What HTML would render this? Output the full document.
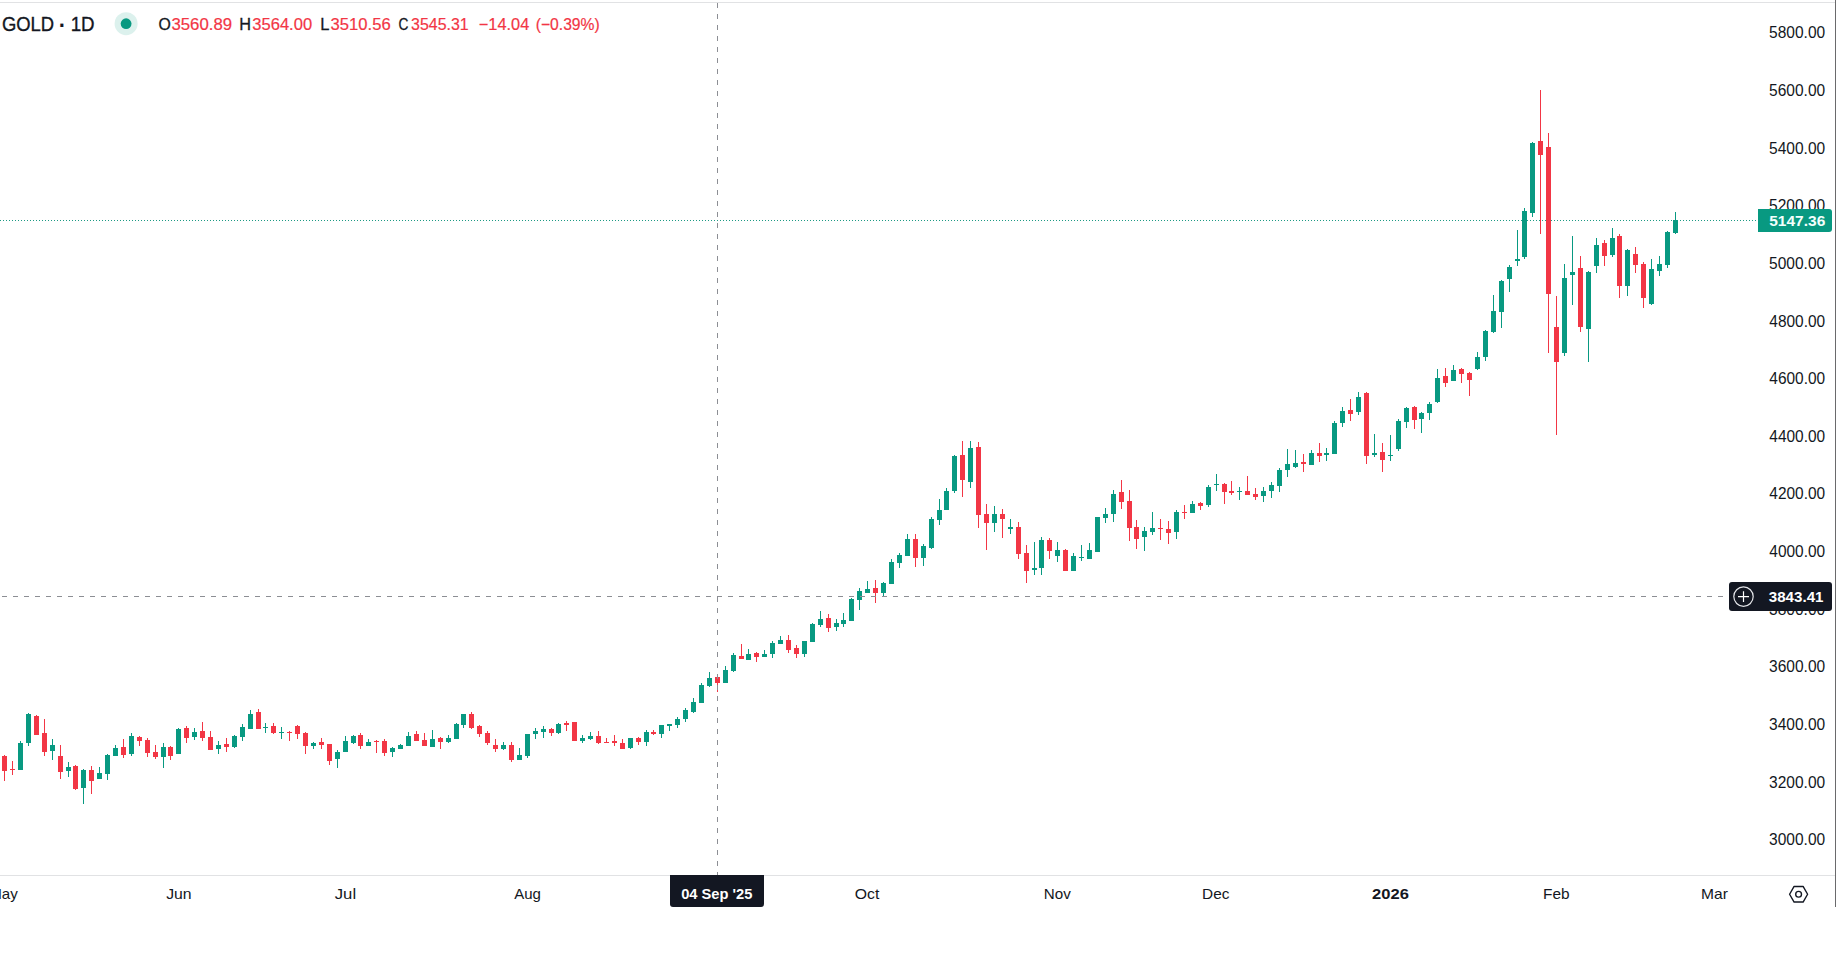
<!DOCTYPE html>
<html lang="en"><head><meta charset="utf-8"><title>GOLD 1D</title>
<style>
html,body{margin:0;padding:0;background:#fff;}
body{width:1836px;height:962px;overflow:hidden;font-family:"Liberation Sans", sans-serif;}
svg{display:block;}
text{font-family:"Liberation Sans", sans-serif;}
</style></head><body>
<svg width="1836" height="962" viewBox="0 0 1836 962">
<rect width="1836" height="962" fill="#fff"/>

<rect x="0" y="2" width="1835" height="1" fill="#e1e2e4"/>
<rect x="0" y="875" width="1835" height="1" fill="#e1e2e4"/>
<rect x="1835" y="0" width="1" height="907" fill="#6a6a6c"/>
<line x1="0" y1="220.5" x2="1758" y2="220.5" stroke="#1c9a84" stroke-width="1" stroke-dasharray="1 2" shape-rendering="crispEdges"/>
<g shape-rendering="crispEdges">
<rect x="4" y="755" width="1" height="26" fill="#f23645"/>
<rect x="2" y="756" width="5" height="15" fill="#f23645"/>
<rect x="12" y="761" width="1" height="14" fill="#f23645"/>
<rect x="10" y="769" width="5" height="1" fill="#f23645"/>
<rect x="20" y="741" width="1" height="29" fill="#089981"/>
<rect x="18" y="743" width="5" height="27" fill="#089981"/>
<rect x="28" y="713" width="1" height="33" fill="#089981"/>
<rect x="26" y="714" width="5" height="29" fill="#089981"/>
<rect x="36" y="715" width="1" height="20" fill="#f23645"/>
<rect x="34" y="716" width="5" height="19" fill="#f23645"/>
<rect x="44" y="719" width="1" height="37" fill="#f23645"/>
<rect x="42" y="733" width="5" height="19" fill="#f23645"/>
<rect x="52" y="739" width="1" height="21" fill="#089981"/>
<rect x="50" y="745" width="5" height="6" fill="#089981"/>
<rect x="60" y="745" width="1" height="34" fill="#f23645"/>
<rect x="58" y="756" width="5" height="16" fill="#f23645"/>
<rect x="68" y="762" width="1" height="15" fill="#089981"/>
<rect x="66" y="767" width="5" height="4" fill="#089981"/>
<rect x="75" y="765" width="1" height="25" fill="#f23645"/>
<rect x="73" y="766" width="5" height="23" fill="#f23645"/>
<rect x="83" y="769" width="1" height="35" fill="#089981"/>
<rect x="81" y="770" width="5" height="18" fill="#089981"/>
<rect x="91" y="766" width="1" height="28" fill="#f23645"/>
<rect x="89" y="770" width="5" height="11" fill="#f23645"/>
<rect x="99" y="767" width="1" height="12" fill="#089981"/>
<rect x="97" y="773" width="5" height="6" fill="#089981"/>
<rect x="107" y="754" width="1" height="26" fill="#089981"/>
<rect x="105" y="755" width="5" height="19" fill="#089981"/>
<rect x="115" y="745" width="1" height="11" fill="#089981"/>
<rect x="113" y="748" width="5" height="8" fill="#089981"/>
<rect x="123" y="739" width="1" height="19" fill="#f23645"/>
<rect x="121" y="747" width="5" height="8" fill="#f23645"/>
<rect x="131" y="733" width="1" height="23" fill="#089981"/>
<rect x="129" y="736" width="5" height="18" fill="#089981"/>
<rect x="139" y="736" width="1" height="10" fill="#f23645"/>
<rect x="137" y="737" width="5" height="4" fill="#f23645"/>
<rect x="147" y="738" width="1" height="19" fill="#f23645"/>
<rect x="145" y="740" width="5" height="13" fill="#f23645"/>
<rect x="155" y="745" width="1" height="14" fill="#f23645"/>
<rect x="153" y="752" width="5" height="5" fill="#f23645"/>
<rect x="163" y="743" width="1" height="25" fill="#089981"/>
<rect x="161" y="747" width="5" height="10" fill="#089981"/>
<rect x="170" y="746" width="1" height="14" fill="#f23645"/>
<rect x="168" y="747" width="5" height="9" fill="#f23645"/>
<rect x="178" y="728" width="1" height="26" fill="#089981"/>
<rect x="176" y="729" width="5" height="25" fill="#089981"/>
<rect x="186" y="726" width="1" height="17" fill="#f23645"/>
<rect x="184" y="728" width="5" height="10" fill="#f23645"/>
<rect x="194" y="728" width="1" height="12" fill="#089981"/>
<rect x="192" y="732" width="5" height="5" fill="#089981"/>
<rect x="202" y="722" width="1" height="19" fill="#f23645"/>
<rect x="200" y="731" width="5" height="7" fill="#f23645"/>
<rect x="210" y="731" width="1" height="19" fill="#f23645"/>
<rect x="208" y="737" width="5" height="13" fill="#f23645"/>
<rect x="218" y="741" width="1" height="13" fill="#089981"/>
<rect x="216" y="745" width="5" height="4" fill="#089981"/>
<rect x="226" y="738" width="1" height="14" fill="#f23645"/>
<rect x="224" y="744" width="5" height="3" fill="#f23645"/>
<rect x="234" y="735" width="1" height="13" fill="#089981"/>
<rect x="232" y="736" width="5" height="11" fill="#089981"/>
<rect x="242" y="724" width="1" height="17" fill="#089981"/>
<rect x="240" y="727" width="5" height="10" fill="#089981"/>
<rect x="250" y="710" width="1" height="19" fill="#089981"/>
<rect x="248" y="714" width="5" height="15" fill="#089981"/>
<rect x="258" y="709" width="1" height="20" fill="#f23645"/>
<rect x="256" y="712" width="5" height="17" fill="#f23645"/>
<rect x="265" y="723" width="1" height="10" fill="#089981"/>
<rect x="263" y="727" width="5" height="1" fill="#089981"/>
<rect x="273" y="723" width="1" height="11" fill="#f23645"/>
<rect x="271" y="726" width="5" height="7" fill="#f23645"/>
<rect x="281" y="727" width="1" height="12" fill="#089981"/>
<rect x="279" y="732" width="5" height="1" fill="#089981"/>
<rect x="289" y="731" width="1" height="10" fill="#f23645"/>
<rect x="287" y="732" width="5" height="1" fill="#f23645"/>
<rect x="297" y="725" width="1" height="14" fill="#f23645"/>
<rect x="295" y="726" width="5" height="8" fill="#f23645"/>
<rect x="305" y="732" width="1" height="22" fill="#f23645"/>
<rect x="303" y="733" width="5" height="13" fill="#f23645"/>
<rect x="313" y="742" width="1" height="7" fill="#089981"/>
<rect x="311" y="743" width="5" height="3" fill="#089981"/>
<rect x="321" y="738" width="1" height="11" fill="#f23645"/>
<rect x="319" y="742" width="5" height="3" fill="#f23645"/>
<rect x="329" y="744" width="1" height="21" fill="#f23645"/>
<rect x="327" y="744" width="5" height="17" fill="#f23645"/>
<rect x="337" y="750" width="1" height="18" fill="#089981"/>
<rect x="335" y="752" width="5" height="7" fill="#089981"/>
<rect x="345" y="736" width="1" height="16" fill="#089981"/>
<rect x="343" y="741" width="5" height="11" fill="#089981"/>
<rect x="353" y="735" width="1" height="9" fill="#089981"/>
<rect x="351" y="736" width="5" height="7" fill="#089981"/>
<rect x="360" y="733" width="1" height="16" fill="#f23645"/>
<rect x="358" y="735" width="5" height="11" fill="#f23645"/>
<rect x="368" y="739" width="1" height="7" fill="#089981"/>
<rect x="366" y="742" width="5" height="4" fill="#089981"/>
<rect x="376" y="740" width="1" height="13" fill="#f23645"/>
<rect x="374" y="741" width="5" height="1" fill="#f23645"/>
<rect x="384" y="739" width="1" height="17" fill="#f23645"/>
<rect x="382" y="741" width="5" height="12" fill="#f23645"/>
<rect x="392" y="747" width="1" height="10" fill="#089981"/>
<rect x="390" y="748" width="5" height="4" fill="#089981"/>
<rect x="400" y="744" width="1" height="5" fill="#089981"/>
<rect x="398" y="745" width="5" height="4" fill="#089981"/>
<rect x="408" y="732" width="1" height="14" fill="#089981"/>
<rect x="406" y="736" width="5" height="10" fill="#089981"/>
<rect x="416" y="731" width="1" height="10" fill="#f23645"/>
<rect x="414" y="734" width="5" height="7" fill="#f23645"/>
<rect x="424" y="733" width="1" height="13" fill="#f23645"/>
<rect x="422" y="740" width="5" height="6" fill="#f23645"/>
<rect x="432" y="730" width="1" height="17" fill="#089981"/>
<rect x="430" y="739" width="5" height="8" fill="#089981"/>
<rect x="440" y="737" width="1" height="12" fill="#f23645"/>
<rect x="438" y="738" width="5" height="4" fill="#f23645"/>
<rect x="448" y="735" width="1" height="8" fill="#089981"/>
<rect x="446" y="738" width="5" height="4" fill="#089981"/>
<rect x="456" y="723" width="1" height="16" fill="#089981"/>
<rect x="454" y="724" width="5" height="15" fill="#089981"/>
<rect x="463" y="714" width="1" height="14" fill="#089981"/>
<rect x="461" y="714" width="5" height="11" fill="#089981"/>
<rect x="471" y="712" width="1" height="17" fill="#f23645"/>
<rect x="469" y="714" width="5" height="14" fill="#f23645"/>
<rect x="479" y="725" width="1" height="12" fill="#f23645"/>
<rect x="477" y="726" width="5" height="8" fill="#f23645"/>
<rect x="487" y="731" width="1" height="14" fill="#f23645"/>
<rect x="485" y="733" width="5" height="10" fill="#f23645"/>
<rect x="495" y="739" width="1" height="13" fill="#f23645"/>
<rect x="493" y="745" width="5" height="4" fill="#f23645"/>
<rect x="503" y="742" width="1" height="8" fill="#089981"/>
<rect x="501" y="745" width="5" height="4" fill="#089981"/>
<rect x="511" y="742" width="1" height="20" fill="#f23645"/>
<rect x="509" y="745" width="5" height="15" fill="#f23645"/>
<rect x="519" y="748" width="1" height="12" fill="#089981"/>
<rect x="517" y="755" width="5" height="5" fill="#089981"/>
<rect x="527" y="734" width="1" height="24" fill="#089981"/>
<rect x="525" y="734" width="5" height="22" fill="#089981"/>
<rect x="535" y="728" width="1" height="11" fill="#089981"/>
<rect x="533" y="731" width="5" height="3" fill="#089981"/>
<rect x="543" y="726" width="1" height="12" fill="#089981"/>
<rect x="541" y="729" width="5" height="3" fill="#089981"/>
<rect x="551" y="728" width="1" height="8" fill="#f23645"/>
<rect x="549" y="729" width="5" height="4" fill="#f23645"/>
<rect x="558" y="723" width="1" height="11" fill="#089981"/>
<rect x="556" y="724" width="5" height="9" fill="#089981"/>
<rect x="566" y="721" width="1" height="10" fill="#f23645"/>
<rect x="564" y="723" width="5" height="2" fill="#f23645"/>
<rect x="574" y="722" width="1" height="19" fill="#f23645"/>
<rect x="572" y="722" width="5" height="19" fill="#f23645"/>
<rect x="582" y="735" width="1" height="8" fill="#089981"/>
<rect x="580" y="738" width="5" height="3" fill="#089981"/>
<rect x="590" y="732" width="1" height="8" fill="#089981"/>
<rect x="588" y="736" width="5" height="3" fill="#089981"/>
<rect x="598" y="731" width="1" height="13" fill="#f23645"/>
<rect x="596" y="736" width="5" height="7" fill="#f23645"/>
<rect x="606" y="738" width="1" height="5" fill="#f23645"/>
<rect x="604" y="742" width="5" height="1" fill="#f23645"/>
<rect x="614" y="735" width="1" height="11" fill="#f23645"/>
<rect x="612" y="741" width="5" height="2" fill="#f23645"/>
<rect x="622" y="739" width="1" height="10" fill="#f23645"/>
<rect x="620" y="743" width="5" height="6" fill="#f23645"/>
<rect x="630" y="738" width="1" height="11" fill="#089981"/>
<rect x="628" y="738" width="5" height="10" fill="#089981"/>
<rect x="638" y="737" width="1" height="8" fill="#f23645"/>
<rect x="636" y="738" width="5" height="4" fill="#f23645"/>
<rect x="646" y="730" width="1" height="16" fill="#089981"/>
<rect x="644" y="732" width="5" height="10" fill="#089981"/>
<rect x="653" y="730" width="1" height="5" fill="#f23645"/>
<rect x="651" y="732" width="5" height="2" fill="#f23645"/>
<rect x="661" y="725" width="1" height="13" fill="#089981"/>
<rect x="659" y="725" width="5" height="9" fill="#089981"/>
<rect x="669" y="724" width="1" height="7" fill="#089981"/>
<rect x="667" y="724" width="5" height="2" fill="#089981"/>
<rect x="677" y="717" width="1" height="11" fill="#089981"/>
<rect x="675" y="719" width="5" height="6" fill="#089981"/>
<rect x="685" y="708" width="1" height="14" fill="#089981"/>
<rect x="683" y="710" width="5" height="9" fill="#089981"/>
<rect x="693" y="698" width="1" height="15" fill="#089981"/>
<rect x="691" y="702" width="5" height="10" fill="#089981"/>
<rect x="701" y="683" width="1" height="20" fill="#089981"/>
<rect x="699" y="685" width="5" height="18" fill="#089981"/>
<rect x="709" y="672" width="1" height="15" fill="#089981"/>
<rect x="707" y="678" width="5" height="8" fill="#089981"/>
<rect x="717" y="675" width="1" height="17" fill="#f23645"/>
<rect x="715" y="677" width="5" height="6" fill="#f23645"/>
<rect x="725" y="666" width="1" height="17" fill="#089981"/>
<rect x="723" y="670" width="5" height="13" fill="#089981"/>
<rect x="733" y="653" width="1" height="19" fill="#089981"/>
<rect x="731" y="655" width="5" height="16" fill="#089981"/>
<rect x="741" y="644" width="1" height="15" fill="#f23645"/>
<rect x="739" y="656" width="5" height="3" fill="#f23645"/>
<rect x="748" y="649" width="1" height="11" fill="#089981"/>
<rect x="746" y="654" width="5" height="6" fill="#089981"/>
<rect x="756" y="652" width="1" height="10" fill="#f23645"/>
<rect x="754" y="653" width="5" height="4" fill="#f23645"/>
<rect x="764" y="650" width="1" height="7" fill="#089981"/>
<rect x="762" y="654" width="5" height="3" fill="#089981"/>
<rect x="772" y="641" width="1" height="17" fill="#089981"/>
<rect x="770" y="643" width="5" height="11" fill="#089981"/>
<rect x="780" y="636" width="1" height="8" fill="#089981"/>
<rect x="778" y="640" width="5" height="4" fill="#089981"/>
<rect x="788" y="635" width="1" height="18" fill="#f23645"/>
<rect x="786" y="640" width="5" height="10" fill="#f23645"/>
<rect x="796" y="645" width="1" height="13" fill="#f23645"/>
<rect x="794" y="648" width="5" height="6" fill="#f23645"/>
<rect x="804" y="641" width="1" height="16" fill="#089981"/>
<rect x="802" y="641" width="5" height="13" fill="#089981"/>
<rect x="812" y="623" width="1" height="19" fill="#089981"/>
<rect x="810" y="624" width="5" height="18" fill="#089981"/>
<rect x="820" y="611" width="1" height="16" fill="#089981"/>
<rect x="818" y="619" width="5" height="6" fill="#089981"/>
<rect x="828" y="614" width="1" height="18" fill="#f23645"/>
<rect x="826" y="618" width="5" height="10" fill="#f23645"/>
<rect x="836" y="619" width="1" height="12" fill="#089981"/>
<rect x="834" y="623" width="5" height="4" fill="#089981"/>
<rect x="843" y="613" width="1" height="14" fill="#089981"/>
<rect x="841" y="620" width="5" height="4" fill="#089981"/>
<rect x="851" y="598" width="1" height="23" fill="#089981"/>
<rect x="849" y="599" width="5" height="22" fill="#089981"/>
<rect x="859" y="588" width="1" height="22" fill="#089981"/>
<rect x="857" y="591" width="5" height="9" fill="#089981"/>
<rect x="867" y="581" width="1" height="12" fill="#089981"/>
<rect x="865" y="589" width="5" height="4" fill="#089981"/>
<rect x="875" y="580" width="1" height="23" fill="#f23645"/>
<rect x="873" y="588" width="5" height="5" fill="#f23645"/>
<rect x="883" y="582" width="1" height="14" fill="#089981"/>
<rect x="881" y="583" width="5" height="10" fill="#089981"/>
<rect x="891" y="559" width="1" height="25" fill="#089981"/>
<rect x="889" y="562" width="5" height="22" fill="#089981"/>
<rect x="899" y="553" width="1" height="15" fill="#089981"/>
<rect x="897" y="555" width="5" height="8" fill="#089981"/>
<rect x="907" y="534" width="1" height="22" fill="#089981"/>
<rect x="905" y="539" width="5" height="17" fill="#089981"/>
<rect x="915" y="534" width="1" height="33" fill="#f23645"/>
<rect x="913" y="539" width="5" height="19" fill="#f23645"/>
<rect x="923" y="544" width="1" height="22" fill="#089981"/>
<rect x="921" y="546" width="5" height="12" fill="#089981"/>
<rect x="931" y="517" width="1" height="32" fill="#089981"/>
<rect x="929" y="519" width="5" height="29" fill="#089981"/>
<rect x="939" y="499" width="1" height="26" fill="#089981"/>
<rect x="937" y="510" width="5" height="10" fill="#089981"/>
<rect x="946" y="488" width="1" height="22" fill="#089981"/>
<rect x="944" y="491" width="5" height="19" fill="#089981"/>
<rect x="954" y="455" width="1" height="38" fill="#089981"/>
<rect x="952" y="456" width="5" height="35" fill="#089981"/>
<rect x="962" y="441" width="1" height="56" fill="#f23645"/>
<rect x="960" y="455" width="5" height="25" fill="#f23645"/>
<rect x="970" y="441" width="1" height="47" fill="#089981"/>
<rect x="968" y="448" width="5" height="34" fill="#089981"/>
<rect x="978" y="442" width="1" height="86" fill="#f23645"/>
<rect x="976" y="447" width="5" height="68" fill="#f23645"/>
<rect x="986" y="504" width="1" height="46" fill="#f23645"/>
<rect x="984" y="514" width="5" height="9" fill="#f23645"/>
<rect x="994" y="506" width="1" height="26" fill="#089981"/>
<rect x="992" y="514" width="5" height="9" fill="#089981"/>
<rect x="1002" y="509" width="1" height="29" fill="#f23645"/>
<rect x="1000" y="514" width="5" height="5" fill="#f23645"/>
<rect x="1010" y="519" width="1" height="15" fill="#089981"/>
<rect x="1008" y="527" width="5" height="2" fill="#089981"/>
<rect x="1018" y="522" width="1" height="37" fill="#f23645"/>
<rect x="1016" y="527" width="5" height="27" fill="#f23645"/>
<rect x="1026" y="545" width="1" height="38" fill="#f23645"/>
<rect x="1024" y="553" width="5" height="18" fill="#f23645"/>
<rect x="1034" y="542" width="1" height="33" fill="#089981"/>
<rect x="1032" y="568" width="5" height="2" fill="#089981"/>
<rect x="1041" y="537" width="1" height="38" fill="#089981"/>
<rect x="1039" y="540" width="5" height="28" fill="#089981"/>
<rect x="1049" y="538" width="1" height="21" fill="#f23645"/>
<rect x="1047" y="540" width="5" height="11" fill="#f23645"/>
<rect x="1057" y="542" width="1" height="20" fill="#089981"/>
<rect x="1055" y="550" width="5" height="6" fill="#089981"/>
<rect x="1065" y="549" width="1" height="22" fill="#f23645"/>
<rect x="1063" y="550" width="5" height="21" fill="#f23645"/>
<rect x="1073" y="553" width="1" height="18" fill="#089981"/>
<rect x="1071" y="556" width="5" height="15" fill="#089981"/>
<rect x="1081" y="545" width="1" height="16" fill="#089981"/>
<rect x="1079" y="557" width="5" height="1" fill="#089981"/>
<rect x="1089" y="543" width="1" height="16" fill="#089981"/>
<rect x="1087" y="550" width="5" height="9" fill="#089981"/>
<rect x="1097" y="517" width="1" height="35" fill="#089981"/>
<rect x="1095" y="517" width="5" height="35" fill="#089981"/>
<rect x="1105" y="508" width="1" height="15" fill="#089981"/>
<rect x="1103" y="514" width="5" height="4" fill="#089981"/>
<rect x="1113" y="490" width="1" height="32" fill="#089981"/>
<rect x="1111" y="494" width="5" height="20" fill="#089981"/>
<rect x="1121" y="480" width="1" height="29" fill="#f23645"/>
<rect x="1119" y="492" width="5" height="10" fill="#f23645"/>
<rect x="1129" y="490" width="1" height="51" fill="#f23645"/>
<rect x="1127" y="501" width="5" height="27" fill="#f23645"/>
<rect x="1136" y="520" width="1" height="29" fill="#f23645"/>
<rect x="1134" y="527" width="5" height="12" fill="#f23645"/>
<rect x="1144" y="527" width="1" height="24" fill="#089981"/>
<rect x="1142" y="531" width="5" height="6" fill="#089981"/>
<rect x="1152" y="512" width="1" height="23" fill="#089981"/>
<rect x="1150" y="528" width="5" height="4" fill="#089981"/>
<rect x="1160" y="519" width="1" height="21" fill="#f23645"/>
<rect x="1158" y="528" width="5" height="1" fill="#f23645"/>
<rect x="1168" y="521" width="1" height="23" fill="#f23645"/>
<rect x="1166" y="529" width="5" height="4" fill="#f23645"/>
<rect x="1176" y="510" width="1" height="29" fill="#089981"/>
<rect x="1174" y="512" width="5" height="20" fill="#089981"/>
<rect x="1184" y="505" width="1" height="14" fill="#f23645"/>
<rect x="1182" y="512" width="5" height="1" fill="#f23645"/>
<rect x="1192" y="501" width="1" height="12" fill="#089981"/>
<rect x="1190" y="504" width="5" height="9" fill="#089981"/>
<rect x="1200" y="502" width="1" height="8" fill="#f23645"/>
<rect x="1198" y="503" width="5" height="3" fill="#f23645"/>
<rect x="1208" y="485" width="1" height="22" fill="#089981"/>
<rect x="1206" y="487" width="5" height="18" fill="#089981"/>
<rect x="1216" y="474" width="1" height="17" fill="#089981"/>
<rect x="1214" y="484" width="5" height="1" fill="#089981"/>
<rect x="1224" y="483" width="1" height="21" fill="#f23645"/>
<rect x="1222" y="484" width="5" height="8" fill="#f23645"/>
<rect x="1231" y="481" width="1" height="14" fill="#f23645"/>
<rect x="1229" y="491" width="5" height="2" fill="#f23645"/>
<rect x="1239" y="487" width="1" height="13" fill="#089981"/>
<rect x="1237" y="491" width="5" height="1" fill="#089981"/>
<rect x="1247" y="476" width="1" height="19" fill="#f23645"/>
<rect x="1245" y="491" width="5" height="4" fill="#f23645"/>
<rect x="1255" y="488" width="1" height="12" fill="#f23645"/>
<rect x="1253" y="494" width="5" height="3" fill="#f23645"/>
<rect x="1263" y="487" width="1" height="15" fill="#089981"/>
<rect x="1261" y="491" width="5" height="5" fill="#089981"/>
<rect x="1271" y="482" width="1" height="16" fill="#089981"/>
<rect x="1269" y="485" width="5" height="6" fill="#089981"/>
<rect x="1279" y="468" width="1" height="24" fill="#089981"/>
<rect x="1277" y="470" width="5" height="16" fill="#089981"/>
<rect x="1287" y="449" width="1" height="28" fill="#089981"/>
<rect x="1285" y="464" width="5" height="6" fill="#089981"/>
<rect x="1295" y="450" width="1" height="18" fill="#089981"/>
<rect x="1293" y="463" width="5" height="4" fill="#089981"/>
<rect x="1303" y="454" width="1" height="18" fill="#f23645"/>
<rect x="1301" y="462" width="5" height="2" fill="#f23645"/>
<rect x="1311" y="450" width="1" height="15" fill="#089981"/>
<rect x="1309" y="453" width="5" height="12" fill="#089981"/>
<rect x="1319" y="443" width="1" height="19" fill="#f23645"/>
<rect x="1317" y="453" width="5" height="3" fill="#f23645"/>
<rect x="1326" y="448" width="1" height="13" fill="#089981"/>
<rect x="1324" y="453" width="5" height="2" fill="#089981"/>
<rect x="1334" y="421" width="1" height="33" fill="#089981"/>
<rect x="1332" y="423" width="5" height="31" fill="#089981"/>
<rect x="1342" y="407" width="1" height="20" fill="#089981"/>
<rect x="1340" y="411" width="5" height="12" fill="#089981"/>
<rect x="1350" y="399" width="1" height="22" fill="#f23645"/>
<rect x="1348" y="410" width="5" height="4" fill="#f23645"/>
<rect x="1358" y="392" width="1" height="23" fill="#089981"/>
<rect x="1356" y="397" width="5" height="15" fill="#089981"/>
<rect x="1366" y="392" width="1" height="72" fill="#f23645"/>
<rect x="1364" y="393" width="5" height="63" fill="#f23645"/>
<rect x="1374" y="434" width="1" height="23" fill="#089981"/>
<rect x="1372" y="453" width="5" height="2" fill="#089981"/>
<rect x="1382" y="443" width="1" height="29" fill="#f23645"/>
<rect x="1380" y="452" width="5" height="8" fill="#f23645"/>
<rect x="1390" y="435" width="1" height="26" fill="#089981"/>
<rect x="1388" y="455" width="5" height="1" fill="#089981"/>
<rect x="1398" y="419" width="1" height="32" fill="#089981"/>
<rect x="1396" y="421" width="5" height="28" fill="#089981"/>
<rect x="1406" y="407" width="1" height="21" fill="#089981"/>
<rect x="1404" y="408" width="5" height="14" fill="#089981"/>
<rect x="1414" y="406" width="1" height="23" fill="#f23645"/>
<rect x="1412" y="407" width="5" height="13" fill="#f23645"/>
<rect x="1421" y="412" width="1" height="21" fill="#089981"/>
<rect x="1419" y="413" width="5" height="6" fill="#089981"/>
<rect x="1429" y="402" width="1" height="18" fill="#089981"/>
<rect x="1427" y="404" width="5" height="9" fill="#089981"/>
<rect x="1437" y="369" width="1" height="34" fill="#089981"/>
<rect x="1435" y="378" width="5" height="24" fill="#089981"/>
<rect x="1445" y="368" width="1" height="19" fill="#f23645"/>
<rect x="1443" y="376" width="5" height="7" fill="#f23645"/>
<rect x="1453" y="365" width="1" height="16" fill="#089981"/>
<rect x="1451" y="370" width="5" height="11" fill="#089981"/>
<rect x="1461" y="368" width="1" height="15" fill="#f23645"/>
<rect x="1459" y="369" width="5" height="5" fill="#f23645"/>
<rect x="1469" y="372" width="1" height="24" fill="#f23645"/>
<rect x="1467" y="373" width="5" height="7" fill="#f23645"/>
<rect x="1477" y="352" width="1" height="18" fill="#089981"/>
<rect x="1475" y="357" width="5" height="12" fill="#089981"/>
<rect x="1485" y="330" width="1" height="31" fill="#089981"/>
<rect x="1483" y="331" width="5" height="26" fill="#089981"/>
<rect x="1493" y="295" width="1" height="38" fill="#089981"/>
<rect x="1491" y="311" width="5" height="21" fill="#089981"/>
<rect x="1501" y="280" width="1" height="48" fill="#089981"/>
<rect x="1499" y="281" width="5" height="31" fill="#089981"/>
<rect x="1509" y="265" width="1" height="27" fill="#089981"/>
<rect x="1507" y="267" width="5" height="12" fill="#089981"/>
<rect x="1517" y="230" width="1" height="36" fill="#089981"/>
<rect x="1515" y="259" width="5" height="2" fill="#089981"/>
<rect x="1524" y="208" width="1" height="51" fill="#089981"/>
<rect x="1522" y="211" width="5" height="46" fill="#089981"/>
<rect x="1532" y="142" width="1" height="75" fill="#089981"/>
<rect x="1530" y="143" width="5" height="70" fill="#089981"/>
<rect x="1540" y="90" width="1" height="144" fill="#f23645"/>
<rect x="1538" y="141" width="5" height="14" fill="#f23645"/>
<rect x="1548" y="133" width="1" height="220" fill="#f23645"/>
<rect x="1546" y="147" width="5" height="147" fill="#f23645"/>
<rect x="1556" y="296" width="1" height="139" fill="#f23645"/>
<rect x="1554" y="327" width="5" height="35" fill="#f23645"/>
<rect x="1564" y="264" width="1" height="92" fill="#089981"/>
<rect x="1562" y="278" width="5" height="75" fill="#089981"/>
<rect x="1572" y="236" width="1" height="69" fill="#089981"/>
<rect x="1570" y="272" width="5" height="3" fill="#089981"/>
<rect x="1580" y="256" width="1" height="76" fill="#f23645"/>
<rect x="1578" y="268" width="5" height="59" fill="#f23645"/>
<rect x="1588" y="271" width="1" height="91" fill="#089981"/>
<rect x="1586" y="272" width="5" height="57" fill="#089981"/>
<rect x="1596" y="238" width="1" height="35" fill="#089981"/>
<rect x="1594" y="245" width="5" height="21" fill="#089981"/>
<rect x="1604" y="240" width="1" height="26" fill="#f23645"/>
<rect x="1602" y="243" width="5" height="13" fill="#f23645"/>
<rect x="1612" y="228" width="1" height="29" fill="#089981"/>
<rect x="1610" y="238" width="5" height="17" fill="#089981"/>
<rect x="1619" y="234" width="1" height="64" fill="#f23645"/>
<rect x="1617" y="236" width="5" height="50" fill="#f23645"/>
<rect x="1627" y="249" width="1" height="47" fill="#089981"/>
<rect x="1625" y="250" width="5" height="36" fill="#089981"/>
<rect x="1635" y="247" width="1" height="26" fill="#f23645"/>
<rect x="1633" y="254" width="5" height="11" fill="#f23645"/>
<rect x="1643" y="262" width="1" height="46" fill="#f23645"/>
<rect x="1641" y="264" width="5" height="34" fill="#f23645"/>
<rect x="1651" y="259" width="1" height="46" fill="#089981"/>
<rect x="1649" y="269" width="5" height="35" fill="#089981"/>
<rect x="1659" y="256" width="1" height="20" fill="#089981"/>
<rect x="1657" y="264" width="5" height="7" fill="#089981"/>
<rect x="1667" y="231" width="1" height="37" fill="#089981"/>
<rect x="1665" y="232" width="5" height="33" fill="#089981"/>
<rect x="1675" y="212" width="1" height="22" fill="#089981"/>
<rect x="1673" y="220" width="5" height="13" fill="#089981"/>
</g>
<line x1="717.5" y1="3" x2="717.5" y2="875" stroke="#8c8e94" stroke-width="1" stroke-dasharray="5 6" shape-rendering="crispEdges"/>
<line x1="2" y1="596.5" x2="1729" y2="596.5" stroke="#8c8e94" stroke-width="1" stroke-dasharray="5 6" shape-rendering="crispEdges"/>
<text x="1769.08" y="38.31" font-size="16" fill="#131722" textLength="56.11" lengthAdjust="spacingAndGlyphs">5800.00</text>
<text x="1769.08" y="95.95" font-size="16" fill="#131722" textLength="56.11" lengthAdjust="spacingAndGlyphs">5600.00</text>
<text x="1769.08" y="153.60" font-size="16" fill="#131722" textLength="56.11" lengthAdjust="spacingAndGlyphs">5400.00</text>
<text x="1769.08" y="211.24" font-size="16" fill="#131722" textLength="56.11" lengthAdjust="spacingAndGlyphs">5200.00</text>
<text x="1769.08" y="268.88" font-size="16" fill="#131722" textLength="56.11" lengthAdjust="spacingAndGlyphs">5000.00</text>
<text x="1769.36" y="326.52" font-size="16" fill="#131722" textLength="55.82" lengthAdjust="spacingAndGlyphs">4800.00</text>
<text x="1769.36" y="384.16" font-size="16" fill="#131722" textLength="55.82" lengthAdjust="spacingAndGlyphs">4600.00</text>
<text x="1769.36" y="441.81" font-size="16" fill="#131722" textLength="55.82" lengthAdjust="spacingAndGlyphs">4400.00</text>
<text x="1769.36" y="499.45" font-size="16" fill="#131722" textLength="55.82" lengthAdjust="spacingAndGlyphs">4200.00</text>
<text x="1769.36" y="557.09" font-size="16" fill="#131722" textLength="55.82" lengthAdjust="spacingAndGlyphs">4000.00</text>
<text x="1769.11" y="614.73" font-size="16" fill="#131722" textLength="56.08" lengthAdjust="spacingAndGlyphs">3800.00</text>
<text x="1769.11" y="672.37" font-size="16" fill="#131722" textLength="56.08" lengthAdjust="spacingAndGlyphs">3600.00</text>
<text x="1769.11" y="730.02" font-size="16" fill="#131722" textLength="56.08" lengthAdjust="spacingAndGlyphs">3400.00</text>
<text x="1769.11" y="787.66" font-size="16" fill="#131722" textLength="56.08" lengthAdjust="spacingAndGlyphs">3200.00</text>
<text x="1769.11" y="845.30" font-size="16" fill="#131722" textLength="56.08" lengthAdjust="spacingAndGlyphs">3000.00</text>
<path d="M1758 209H1829a3 3 0 0 1 3 3V229a3 3 0 0 1 -3 3H1758Z" fill="#089981"/>
<text x="1769.23" y="226" font-size="15.3" font-weight="bold" fill="#f2fffc" textLength="56.11" lengthAdjust="spacingAndGlyphs">5147.36</text>
<rect x="1729" y="582" width="103" height="29" rx="3" fill="#131722"/>
<circle cx="1743.5" cy="596.6" r="9.7" fill="none" stroke="#e4e5e9" stroke-width="1.2"/>
<path d="M1738 596.6H1749M1743.5 591.2V602" stroke="#fff" stroke-width="1.2" fill="none"/>
<text x="1768.77" y="602" font-size="15.3" font-weight="bold" fill="#fff" textLength="54.74" lengthAdjust="spacingAndGlyphs">3843.41</text>
<text x="-10.74" y="898.8" font-size="15" fill="#131722" textLength="28.57" lengthAdjust="spacingAndGlyphs">May</text>
<text x="166.16" y="898.8" font-size="15" fill="#131722" textLength="25.45" lengthAdjust="spacingAndGlyphs">Jun</text>
<text x="334.75" y="898.8" font-size="15" fill="#131722" textLength="21.36" lengthAdjust="spacingAndGlyphs">Jul</text>
<text x="514.27" y="898.8" font-size="15" fill="#131722" textLength="26.69" lengthAdjust="spacingAndGlyphs">Aug</text>
<text x="854.76" y="898.8" font-size="15" fill="#131722" textLength="24.55" lengthAdjust="spacingAndGlyphs">Oct</text>
<text x="1043.76" y="898.8" font-size="15" fill="#131722" textLength="27.00" lengthAdjust="spacingAndGlyphs">Nov</text>
<text x="1202.04" y="898.8" font-size="15" fill="#131722" textLength="27.37" lengthAdjust="spacingAndGlyphs">Dec</text>
<text x="1543.03" y="898.8" font-size="15" fill="#131722" textLength="26.60" lengthAdjust="spacingAndGlyphs">Feb</text>
<text x="1701.02" y="898.8" font-size="15" fill="#131722" textLength="26.83" lengthAdjust="spacingAndGlyphs">Mar</text>
<text x="1372.14" y="898.8" font-size="15" font-weight="bold" fill="#131722" textLength="36.75" lengthAdjust="spacingAndGlyphs">2026</text>
<path d="M670 875H764V904a3 3 0 0 1 -3 3H673a3 3 0 0 1 -3 -3Z" fill="#131722"/>
<text x="681.13" y="898.8" font-size="15" font-weight="bold" fill="#fff" textLength="71.27" lengthAdjust="spacingAndGlyphs">04 Sep '25</text>
<polygon points="1807.60,894.25 1803.10,902.04 1794.10,902.04 1789.60,894.25 1794.10,886.46 1803.10,886.46" fill="none" stroke="#131722" stroke-width="1.4" stroke-linejoin="round"/>
<circle cx="1798.6" cy="894.25" r="2.9" fill="none" stroke="#131722" stroke-width="1.4"/>
<text x="1.98" y="31.4" font-size="20" fill="#131722" textLength="52.19" lengthAdjust="spacingAndGlyphs" stroke="#131722" stroke-width="0.35">GOLD</text>
<text x="56.5" y="34.1" font-size="32" fill="#131722">·</text>
<text x="70.68" y="31.4" font-size="20" fill="#131722" textLength="23.96" lengthAdjust="spacingAndGlyphs" stroke="#131722" stroke-width="0.35">1D</text>
<circle cx="126.1" cy="23.7" r="11.5" fill="#089981" fill-opacity="0.14"/>
<circle cx="126.1" cy="23.7" r="5.4" fill="#089981"/>
<text x="158.46" y="29.8" font-size="16.5" fill="#131722" textLength="12.30" lengthAdjust="spacingAndGlyphs" stroke="#131722" stroke-width="0.3">O</text>
<text x="171.46" y="29.8" font-size="16.5" fill="#f23645" textLength="60.57" lengthAdjust="spacingAndGlyphs" stroke="#f23645" stroke-width="0.2">3560.89</text>
<text x="239.37" y="29.8" font-size="16.5" fill="#131722" textLength="11.76" lengthAdjust="spacingAndGlyphs" stroke="#131722" stroke-width="0.3">H</text>
<text x="252.37" y="29.8" font-size="16.5" fill="#f23645" textLength="59.75" lengthAdjust="spacingAndGlyphs" stroke="#f23645" stroke-width="0.2">3564.00</text>
<text x="320.15" y="29.8" font-size="16.5" fill="#131722" textLength="9.14" lengthAdjust="spacingAndGlyphs" stroke="#131722" stroke-width="0.3">L</text>
<text x="330.62" y="29.8" font-size="16.5" fill="#f23645" textLength="60.09" lengthAdjust="spacingAndGlyphs" stroke="#f23645" stroke-width="0.2">3510.56</text>
<text x="398.51" y="29.8" font-size="16.5" fill="#131722" textLength="9.89" lengthAdjust="spacingAndGlyphs" stroke="#131722" stroke-width="0.3">C</text>
<text x="411.09" y="29.8" font-size="16.5" fill="#f23645" textLength="57.57" lengthAdjust="spacingAndGlyphs" stroke="#f23645" stroke-width="0.2">3545.31</text>
<text x="478.80" y="29.8" font-size="16.5" fill="#f23645" textLength="50.43" lengthAdjust="spacingAndGlyphs" stroke="#f23645" stroke-width="0.2">−14.04</text>
<text x="535.73" y="29.8" font-size="16.5" fill="#f23645" textLength="64.00" lengthAdjust="spacingAndGlyphs" stroke="#f23645" stroke-width="0.2">(−0.39%)</text>
</svg></body></html>
